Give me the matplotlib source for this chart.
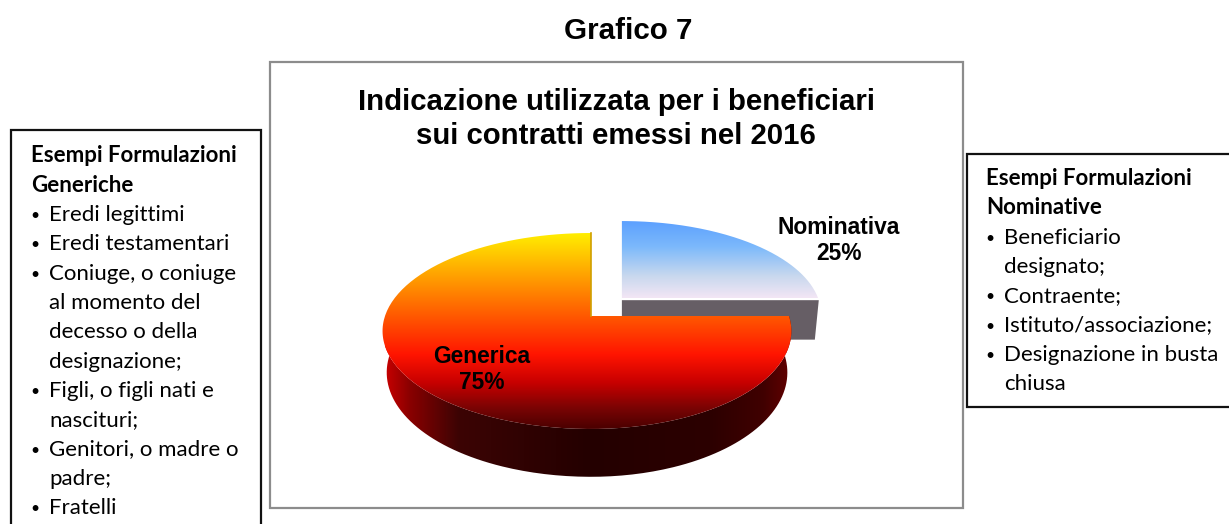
import numpy as np
import matplotlib
matplotlib.use("Agg")
import matplotlib.pyplot as plt
from matplotlib.colors import LinearSegmentedColormap
from matplotlib.patches import PathPatch, Rectangle
from matplotlib.path import Path

W, H = 1229, 524

# data
categories = ["Nominativa", "Generica"]
shares = [25, 75]
explode = [0.24, 0]
page_title = "Grafico 7"
chart_title = ["Indicazione utilizzata per i beneficiari", "sui contratti emessi nel 2016"]
left_head = ["Esempi Formulazioni", "Generiche"]
left_items = [
    ["Eredi legittimi"],
    ["Eredi testamentari"],
    ["Coniuge, o coniuge", "al momento del", "decesso o della", "designazione;"],
    ["Figli, o figli nati e", "nascituri;"],
    ["Genitori, o madre o", "padre;"],
    ["Fratelli"],
]
right_head = ["Esempi Formulazioni", "Nominative"]
right_items = [
    ["Beneficiario", "designato;"],
    ["Contraente;"],
    ["Istituto/associazione;"],
    ["Designazione in busta", "chiusa"],
]

# how the flat pie is tilted onto the page (pixels)
CX, CY = 591, 316
B_LEFT, B_RIGHT, B_PULLED = 206, 198, 202
PULL_X = 182
A, K = 95.7, 0.153
D = 40.5


def project(c, s, c0=0.0, bottom=False):
    # c0 is the sideways pull of the slice, kept out of the perspective so its edge stays upright
    c = np.atleast_1d(c) - c0
    s = np.atleast_1d(s)
    w = 1 + K * s
    if c0 > 0:
        b = B_PULLED
    else:
        b = np.where(c < 0, B_LEFT, B_RIGHT)
    x = b * c / w
    y = -A * s / w
    if bottom:
        x = x * 0.98
        y = y + D / w
    return np.column_stack([CX + c0 * PULL_X + x, CY + y])


def arc(wedge, t1, t2, bottom=False):
    t = np.radians(np.linspace(t1, t2, 200))
    cx, cy = wedge.center
    return project(cx + wedge.r * np.cos(t), cy + wedge.r * np.sin(t), cx, bottom)


def apex_of(wedge, bottom=False):
    cx, cy = wedge.center
    return project(cx, cy, cx, bottom)


def top_outline(wedge):
    apex = apex_of(wedge)
    return np.vstack([apex, arc(wedge, wedge.theta1, wedge.theta2), apex])


def shape(pts, ax):
    patch = PathPatch(Path(pts), fc="none", ec="none")
    ax.add_patch(patch)
    return patch


def gradient(ax, patch, stops, extent, horizontal=False):
    cmap = LinearSegmentedColormap.from_list("g", stops, N=512)
    ramp = np.linspace(0, 1, 512)
    ramp = ramp[None, :] if horizontal else ramp[:, None]
    im = ax.imshow(ramp, cmap=cmap, extent=extent, origin="upper", aspect="auto",
                   interpolation="bilinear", zorder=patch.get_zorder())
    im.set_clip_path(patch)


fig = plt.figure(figsize=(W / 100, H / 100), dpi=100, facecolor="white")

# pie only gives the wedge geometry, they get redrawn tilted below
helper = fig.add_axes([0, 0, 0.1, 0.1])
wedges, _ = helper.pie(shares, explode=explode, startangle=90, counterclock=False)
helper.set_visible(False)
nom, gen = wedges

ax = fig.add_axes([0, 0, 1, 1])
ax.set_axis_off()

# boxes
ax.add_patch(Rectangle((269.5, 61.5), 693, 446, fc="white", ec="#8c8c8c", lw=1.6))
ax.add_patch(Rectangle((10.5, 129.5), 250, 420, fc="white", ec="#111111", lw=1.6))
ax.add_patch(Rectangle((966.5, 153.5), 290, 253, fc="white", ec="#111111", lw=1.6))

# cut face of the pulled out slice
nom_end = arc(nom, 0, 0.01)[:1]
nom_end_b = arc(nom, 0, 0.01, bottom=True)[:1]
ax.add_patch(PathPatch(Path(np.vstack([apex_of(nom), nom_end, nom_end_b,
                                       apex_of(nom, bottom=True), apex_of(nom)])),
                       fc="#665e65", ec="none", zorder=2))

p = shape(top_outline(nom), ax)
p.set_zorder(3)
gradient(ax, p, [(0, "#5a9eff"), (0.35, "#7cb9fb"), (0.72, "#c8d8ee"), (1, "#f3e6f5")],
         (600, 840, 298.5, 219.5))

# side of the big slice
side = np.vstack([arc(gen, 180, 360), arc(gen, 360, 180, bottom=True)])
p = shape(side, ax)
p.set_zorder(4)
gradient(ax, p, [(0, "#c80000"), (0.06, "#8a0000"), (0.18, "#3c0404"), (0.5, "#240000"),
                 (0.8, "#2c0000"), (0.93, "#400000"), (1, "#640000")],
         (385, 792, 480, 310), horizontal=True)

p = shape(top_outline(gen), ax)
p.set_zorder(5)
gradient(ax, p, [(0, "#fff000"), (0.2, "#ffa800"), (0.42, "#ff5a00"), (0.62, "#ff1400"),
                 (0.76, "#c80000"), (0.89, "#7a0404"), (1, "#480000")],
         (380, 795, 430, 232.5))
gen_apex = apex_of(gen)[0]
gen_top = arc(gen, 90, 90.01)[0]
ax.plot([gen_apex[0], gen_top[0]], [gen_apex[1], gen_top[1]], color="#d0a000", lw=1.2, zorder=6)

# titles and slice labels
ax.text(628, 39, page_title, family="Liberation Sans", weight="bold", fontsize=21.3,
        ha="center", va="baseline", color="black")
for i, line in enumerate(chart_title):
    ax.text(616, 110 + i * 34, line, family="Liberation Sans", weight="bold", fontsize=21.2,
            ha="center", va="baseline", color="black", zorder=8)
for cat, share, x, y in zip(categories, shares, [839, 482], [234, 363]):
    ax.text(x, y, cat, family="Liberation Sans", weight="bold", fontsize=16.4,
            ha="center", va="baseline", zorder=8)
    ax.text(x, y + 26, f"{share}%", family="Liberation Sans", weight="bold", fontsize=16.4,
            ha="center", va="baseline", zorder=8)


def text_block(x, y, head, items):
    step = 29.3
    for line in head:
        ax.text(x, y, line, family="Lato", weight="bold", fontsize=16, va="baseline", zorder=8)
        y += step
    for item in items:
        ax.text(x - 1, y - 1, "\u2022", family="Lato", fontsize=11.5, va="baseline", zorder=8)
        for line in item:
            ax.text(x + 18, y, line, family="Lato", fontsize=16, va="baseline", zorder=8)
            y += step


text_block(31, 162.5, left_head, left_items)
text_block(986, 185, right_head, right_items)

ax.set_xlim(0, W)
ax.set_ylim(H, 0)
fig.savefig("out.png", dpi=100)
